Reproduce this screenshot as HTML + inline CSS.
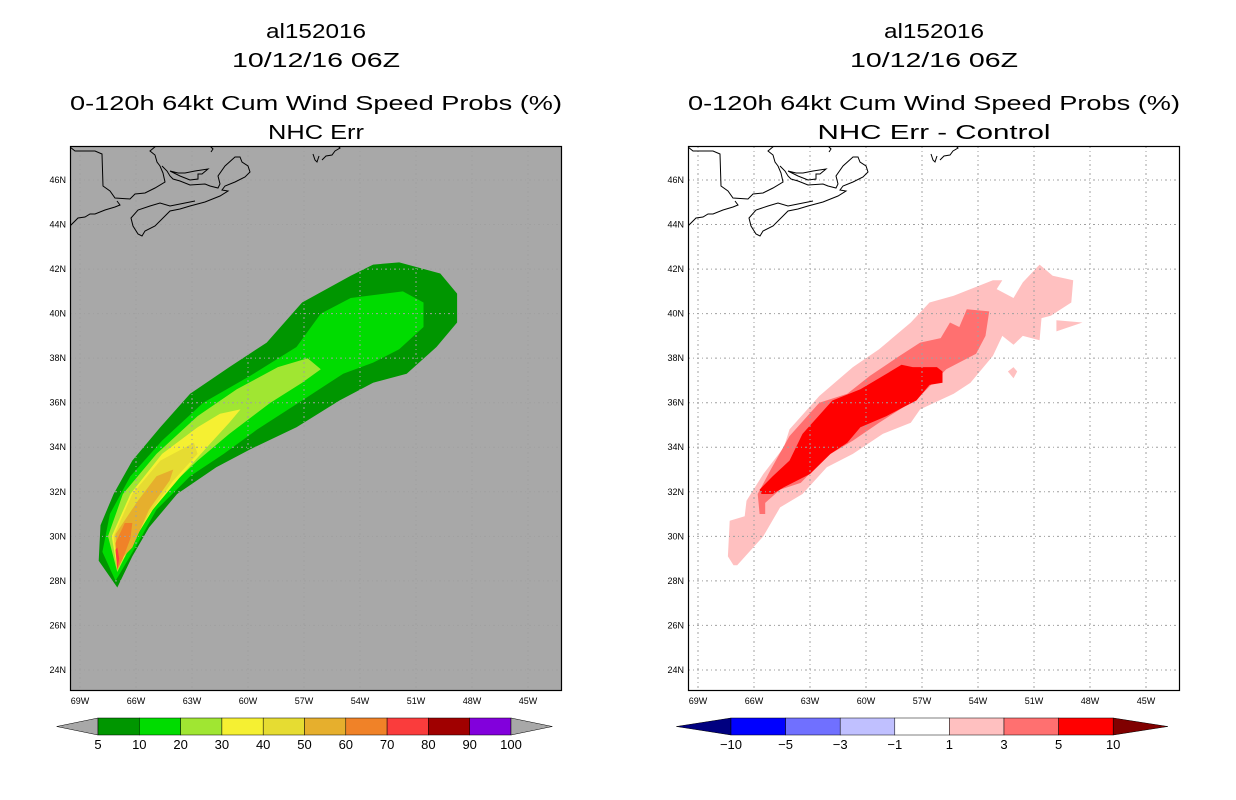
<!DOCTYPE html>
<html><head><meta charset="utf-8">
<style>
html,body{margin:0;padding:0;background:#fff;}
svg{display:block;}
text{font-family:"Liberation Sans",sans-serif;fill:#000;}
</style></head>
<body>
<svg id="chart" width="1236" height="800" viewBox="0 0 1236 800" xmlns="http://www.w3.org/2000/svg"></svg>
<script>
// ---- axis data ----
const latTicks = [46,44,42,40,38,36,34,32,30,28,26,24];
const lonTicks = [69,66,63,60,57,54,51,48,45];
// ---- left panel contour levels (percent) ----
const leftLevels = [5,10,20,30,40,50,60,70,80,90,100];
const leftColors = ['#009600','#00dc00','#a0e632','#f5f032','#e6dc32','#e6af2d','#f08228','#fa3c3c','#a00000','#8200dc'];
// polygons as [lonW, latN] pairs
const p5 = [[67.0,27.7],[68.0,28.9],[67.9,30.5],[67.2,31.9],[66.2,33.4],[64.7,34.9],[63.1,36.4],[61.0,37.6],[59.0,38.7],[57.1,40.5],[54.5,41.7],[53.3,42.2],[51.9,42.3],[49.7,41.8],[48.8,40.9],[48.8,39.6],[49.9,38.5],[51.5,37.3],[53.3,36.9],[55.1,36.1],[57.4,34.9],[59.9,33.9],[61.7,33.1],[63.8,31.9],[65.3,30.4],[66.2,29.1]];
const p10 = [[67.1,28.0],[67.8,29.3],[67.4,31.0],[66.3,32.7],[64.6,34.3],[62.4,36.0],[59.9,37.2],[57.4,38.5],[56.1,40.0],[54.5,40.7],[51.7,41.0],[50.6,40.5],[50.6,39.4],[51.9,38.4],[53.3,37.8],[54.9,37.3],[57.1,36.1],[59.5,34.8],[61.3,33.7],[63.1,32.7],[64.9,31.2],[65.9,29.7]];
const p20 = [[67.0,28.4],[67.5,30.0],[66.7,31.9],[64.9,33.7],[62.7,35.4],[60.6,36.6],[58.4,37.6],[56.8,38.0],[56.1,37.5],[57.1,36.9],[58.8,36.0],[61.0,34.6],[62.7,33.4],[64.6,31.9],[65.8,30.4]];
const p30 = [[67.0,28.5],[67.3,30.0],[66.3,31.9],[64.6,33.7],[62.7,34.9],[61.5,35.5],[60.4,35.7],[61.0,35.1],[62.2,34.0],[63.6,32.7],[65.1,31.2],[66.2,29.7]];
const p40 = [[67.0,28.6],[67.2,30.0],[66.2,31.9],[64.7,33.4],[62.9,34.2],[62.7,33.7],[64.0,32.5],[65.3,31.0],[66.2,29.7]];
const p50 = [[67.0,28.8],[67.1,30.1],[65.9,31.6],[64.9,32.7],[64.0,33.0],[64.2,32.5],[65.3,31.2],[66.2,29.5]];
const p60 = [[67.0,28.5],[67.1,29.7],[66.6,30.6],[66.2,30.6],[66.3,29.9],[66.7,29.0]];
const p70 = [[67.0,28.5],[67.1,29.4],[67.0,29.5],[66.9,29.0]];
// ---- right panel difference levels ----
const rightLevels = [-10,-5,-3,-1,1,3,5,10];
const rightColors = ['#0000ff','#7070ff','#c0c0ff','#ffffff','#ffc0c0','#ff7070','#ff0000'];
const d1 = [[67.1,28.7],[67.4,29.1],[67.3,30.7],[66.5,30.9],[66.4,31.6],[65.5,32.8],[64.4,34.0],[64.1,34.8],[62.5,36.3],[60.7,37.6],[59.3,38.4],[57.6,39.6],[56.6,40.5],[55.3,40.8],[53.2,41.5],[52.7,41.5],[53.0,41.1],[52.1,40.7],[51.6,41.4],[50.7,42.2],[50.0,41.7],[48.9,41.5],[49.0,40.5],[50.1,39.9],[50.6,39.8],[50.7,38.8],[51.6,39.0],[52.1,38.6],[52.7,39.0],[53.2,38.1],[54.4,36.9],[55.3,36.4],[57.1,35.7],[57.6,35.1],[59.1,34.6],[60.7,33.7],[62.1,33.1],[63.4,31.9],[64.6,31.3],[65.5,30.0],[66.9,28.7]];
const d1b = [[49.8,39.7],[48.4,39.6],[49.8,39.2]];
const d1c = [[52.1,37.6],[51.9,37.4],[52.1,37.1],[52.4,37.4]];
const d3 = [[65.7,31.0],[65.8,31.9],[65.1,33.0],[64.1,34.5],[62.5,36.0],[61.0,36.4],[59.8,37.2],[58.2,38.1],[57.1,38.7],[56.0,38.9],[55.5,39.6],[55.0,39.4],[54.6,40.2],[53.4,40.1],[53.6,39.0],[54.1,38.2],[55.7,37.5],[57.1,36.3],[58.0,35.8],[59.3,35.1],[60.7,34.3],[62.1,33.6],[63.5,32.4],[64.6,32.1],[65.4,31.5],[65.4,31.0]];
const d5 = [[65.6,31.9],[65.7,32.1],[65.0,32.7],[64.1,33.4],[63.4,34.6],[61.8,36.1],[60.3,36.6],[59.1,37.2],[58.1,37.7],[57.5,37.6],[56.2,37.6],[55.9,37.4],[55.9,36.9],[56.6,36.8],[57.3,36.1],[58.0,35.8],[58.9,35.4],[60.3,34.9],[61.0,34.2],[61.9,33.7],[63.0,32.8],[64.4,32.2],[65.0,31.9]];

const NS='http://www.w3.org/2000/svg';
const svg=document.getElementById('chart');
function mk(tag,attrs,parent){const e=document.createElementNS(NS,tag);for(const k in attrs)e.setAttribute(k,attrs[k]);(parent||svg).appendChild(e);return e;}

// axis functions (map extents in pixels)
const W0=70, MAPW=492, TOP=146, MAPH=545;
function xScale(lonW){return 80+(69-lonW)*18.667;}   // relative to left panel, shifted later
function yScale(lat){return 180+(46-lat)*22.27;}
function ptsStr(poly,off){return poly.map(p=>(xScale(p[0])+off).toFixed(1)+','+yScale(p[1]).toFixed(1)).join(' ');}

// coastline (relative pixel outline of Maritime coast, geography backdrop)
const coastLines=[
 [[0,1],[5,5],[25,5],[32,8],[33,40],[40,45],[45,52],[60,53],[65,48],[75,47],[85,42],[95,36],[93,27],[90,20],[87,16],[85,9],[80,5],[86,0]],
 [[0,80],[4,76],[8,72],[15,71],[20,68],[25,68],[35,64],[45,61],[50,59],[47,55]],
 [[92,20],[97,25],[100,30],[103,33],[110,35],[120,39],[135,38],[140,40],[148,42],[150,38],[148,30],[155,20],[165,11],[170,11],[172,16],[178,20],[180,26],[175,31],[165,36],[155,40],[152,44],[158,45],[150,50],[135,56],[120,60],[110,63],[100,65],[95,70],[85,80],[75,85],[72,90],[68,88],[63,80],[61,72],[68,64],[80,60],[90,57],[100,60],[110,58],[125,55]],
 [[100,25],[108,27],[115,27],[125,25],[138,23],[132,28],[128,28],[128,33],[120,34],[110,30],[100,25]],
 [[140,0],[143,3],[141,6]],
 [[243,8],[245,14],[247,16],[249,10]],
 [[252,14],[256,10],[262,9],[265,5],[270,2],[268,0]]
];

function panel(off,bg,name,polys,title2){
  const g=mk('g',{});
  
  
  const cx=off+W0+MAPW/2;
  const t=[['al152016',38,'title-storm-id',100],['10/12/16 06Z',67,'title-date',168],['0-120h 64kt Cum Wind Speed Probs (%)',110,'title-product',492],[title2,139,'title-subtitle',title2.length*13.7]];
  t.forEach(a=>{const e=mk('text',{x:cx,y:a[1],'text-anchor':'middle','font-size':'20',textLength:a[3],lengthAdjust:'spacingAndGlyphs'},g);e.textContent=a[0];
    });
  const bgR=mk('rect',{x:off+W0,y:TOP,width:MAPW,height:MAPH,fill:bg},g);
  
  const clip=mk('clipPath',{id:'clip'+off},g);mk('rect',{x:off+W0,y:TOP,width:MAPW,height:MAPH},clip);
  const cg=mk('g',{'clip-path':'url(#clip'+off+')'},g);
  polys.forEach(pp=>{const e=mk('polygon',{points:ptsStr(pp[0],off),fill:pp[1]},cg);
    });
  // grid
  lonTicks.forEach(l=>{const x=xScale(l)+off;const e=mk('line',{x1:x,x2:x,y1:TOP,y2:TOP+MAPH,stroke:'#a0a0a0','stroke-width':1,'stroke-dasharray':'2,3,1,3'},cg);
    });
  latTicks.forEach(l=>{const y=yScale(l);const e=mk('line',{x1:off+W0,x2:off+W0+MAPW,y1:y,y2:y,stroke:'#a0a0a0','stroke-width':1,'stroke-dasharray':'2,3,1,3'},cg);
    });
  coastLines.forEach(cl=>{const e=mk('polyline',{points:cl.map(p=>(p[0]+off+W0)+','+(p[1]+TOP)).join(' '),fill:'none',stroke:'#000','stroke-width':1},cg);
    });
  mk('rect',{x:off+W0+0.5,y:TOP+0.5,width:MAPW-1,height:MAPH-1,fill:'none',stroke:'#000','stroke-width':1.2},g);
  latTicks.forEach(l=>{const e=mk('text',{x:off+66,y:yScale(l)+3,'text-anchor':'end','font-size':'9'},g);e.textContent=l+'N';
    });
  lonTicks.forEach(l=>{const e=mk('text',{x:xScale(l)+off,y:704,'text-anchor':'middle','font-size':'9'},g);e.textContent=l+'W';
    });
  return g;
}

panel(0,'#a8a8a8','left-panel-nhc-err',[
 [p5,leftColors[0],'contour-5'],[p10,leftColors[1],'contour-10'],[p20,leftColors[2],'contour-20'],[p30,leftColors[3],'contour-30'],
 [p40,leftColors[4],'contour-40'],[p50,leftColors[5],'contour-50'],[p60,leftColors[6],'contour-60'],[p70,leftColors[7],'contour-70']],'NHC Err');
panel(618,'#ffffff','right-panel-difference',[
 [d1,rightColors[4],'diff-contour-1'],[d1b,rightColors[4],'diff-contour-1-patch'],[d1c,rightColors[4],'diff-contour-1-patch'],
 [d3,rightColors[5],'diff-contour-3'],[d5,rightColors[6],'diff-contour-5']],'NHC Err - Control');

// colorbars
function colorbar(x0,step,levels,colors,lowCol,highCol,name){
  const g=mk('g',{});
  
  const y0=718,h=17,n=colors.length;
  const lt=mk('polygon',{points:(x0-step)+','+(y0+h/2)+' '+x0+','+y0+' '+x0+','+(y0+h),fill:lowCol,stroke:'#000','stroke-width':0.5},g);
  
  colors.forEach((c,i)=>{const r=mk('rect',{x:x0+i*step,y:y0,width:step,height:h,fill:c,stroke:'#000','stroke-width':0.5},g);
    });
  const xe=x0+n*step;
  const ht=mk('polygon',{points:xe+','+y0+' '+(xe+step)+','+(y0+h/2)+' '+xe+','+(y0+h),fill:highCol,stroke:'#000','stroke-width':0.5},g);
  
  levels.forEach((v,i)=>{const t=mk('text',{x:x0+i*step,y:749,'text-anchor':'middle','font-size':'13'},g);t.textContent=(v<0?'\u2212'+(-v):v);
    });
}
colorbar(98,41.3,leftLevels,leftColors,'#a8a8a8','#a8a8a8','colorbar-probability');
colorbar(731,54.6,rightLevels,rightColors,'#000080','#800000','colorbar-difference');
</script>
</body></html>
